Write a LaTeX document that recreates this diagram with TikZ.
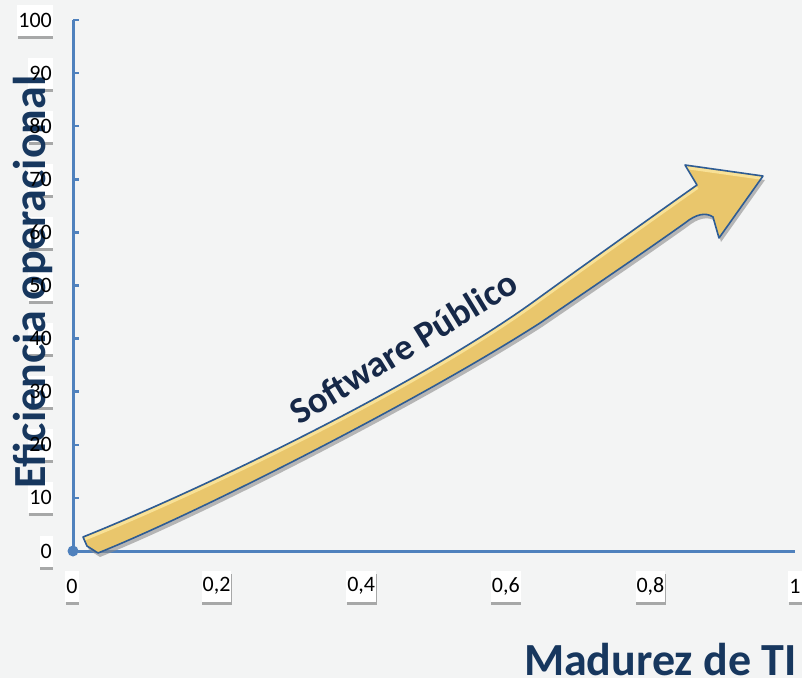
\documentclass[tikz,border=0pt]{standalone}
\usepackage{fontspec}
\setmainfont{Carlito}
\usetikzlibrary{shadows}
\definecolor{bg}{RGB}{243,244,244}
\definecolor{axisblue}{RGB}{79,129,189}
\definecolor{titleblue}{RGB}{23,55,94}
\definecolor{swblue}{RGB}{22,40,72}
\definecolor{gold}{RGB}{233,198,108}
\definecolor{goldlight}{RGB}{248,225,150}
\definecolor{arrowline}{RGB}{46,92,148}
\begin{document}
\begin{tikzpicture}[x=1pt,y=-1pt,
  lblbox/.style={fill=white, text=white, minimum height=31pt, inner xsep=1pt, inner ysep=0pt,
    font=\fontsize{22}{22}\selectfont,
    drop shadow={shadow xshift=0.5pt, shadow yshift=-3pt, opacity=0.45, fill=black!70}},
  lbltxt/.style={text=black, minimum height=31pt, inner xsep=1pt, inner ysep=0pt,
    font=\fontsize{22}{22}\selectfont},
  axisline/.style={draw=axisblue, line width=3pt},
  tickline/.style={draw=axisblue, line width=2.5pt},
  title/.style={text=titleblue, font=\fontsize{46}{46}\selectfont\bfseries}
]
\useasboundingbox (0,0) rectangle (802,678);
\fill[bg] (0,0) rectangle (802,678);

% axes
\coordinate (O) at (73,551);
\coordinate (ytop) at (73,20);
\coordinate (xend) at (795,551);
\draw[axisline] (O) -- (ytop);
\draw[axisline] (O) -- (xend);
\foreach \k in {1,...,10}{
  \coordinate (t\k) at (73,551-53.1*\k);
  \draw[tickline] (t\k) -- ++(6,0);
}
\fill[axisblue] (O) circle (5.5pt);

% y labels: boxes
\foreach \v/\k in {0/0,10/1,20/2,30/3,40/4,50/5,60/6,70/7,80/8,90/9,100/10}{
  \node[lblbox, anchor=east] (yb\k) at (53,551-53.1*\k) {\v};
}
% x labels: boxes
\foreach \v/\k in {0/0,{0,2}/1,{0,4}/2,{0,6}/3,{0,8}/4,1/5}{
  \node[lblbox] (xb\k) at (72+144.6*\k,586) {\v};
}

% y axis title
\node[title, rotate=90, anchor=base west, inner sep=0pt] (ytitle) at (45,489) {Eficiencia operacional};

% label texts
\foreach \v/\k in {0/0,10/1,20/2,30/3,40/4,50/5,60/6,70/7,80/8,90/9,100/10}{
  \node[lbltxt, anchor=east] (yl\k) at (53,551-53.1*\k) {\v};
}
\foreach \v/\k in {0/0,{0,2}/1,{0,4}/2,{0,6}/3,{0,8}/4,1/5}{
  \node[lbltxt] (xl\k) at (72+144.6*\k,586) {\v};
}

% x axis title
\node[title, anchor=base east, inner sep=0pt] (xtitle) at (797,675) {Madurez de TI};

% arrow
\def\arrowpath{(83,537) .. controls (200,490) and (420,385) .. (540,297)
  .. controls (580,268) and (667,206) .. (697,185)
  -- (685,165) -- (763,176) -- (719,238) -- (713,217)
  .. controls (706,212) and (696,214) .. (685,223)
  .. controls (640,255) and (600,282) .. (540,323)
  .. controls (420,400) and (200,512) .. (98,553)
  -- (87,546) -- cycle}
\fill[black!45, opacity=0.6, xshift=2pt, yshift=-4pt] \arrowpath;
\fill[gold] \arrowpath;
\begin{scope}
  \clip \arrowpath;
  \draw[goldlight, line width=3pt, xshift=0.5pt, yshift=-2.5pt]
    (83,537) .. controls (200,490) and (420,385) .. (540,297)
    .. controls (580,268) and (667,206) .. (697,185)
    (685,165) -- (763,176);
\end{scope}
\draw[arrowline, line width=1.6pt, line join=round] \arrowpath;

\node[text=swblue, font=\fontsize{37}{37}\selectfont\bfseries, rotate=31.5, inner sep=0pt, anchor=base] (sw) at (410,358) {Software Público};
\end{tikzpicture}
\end{document}
